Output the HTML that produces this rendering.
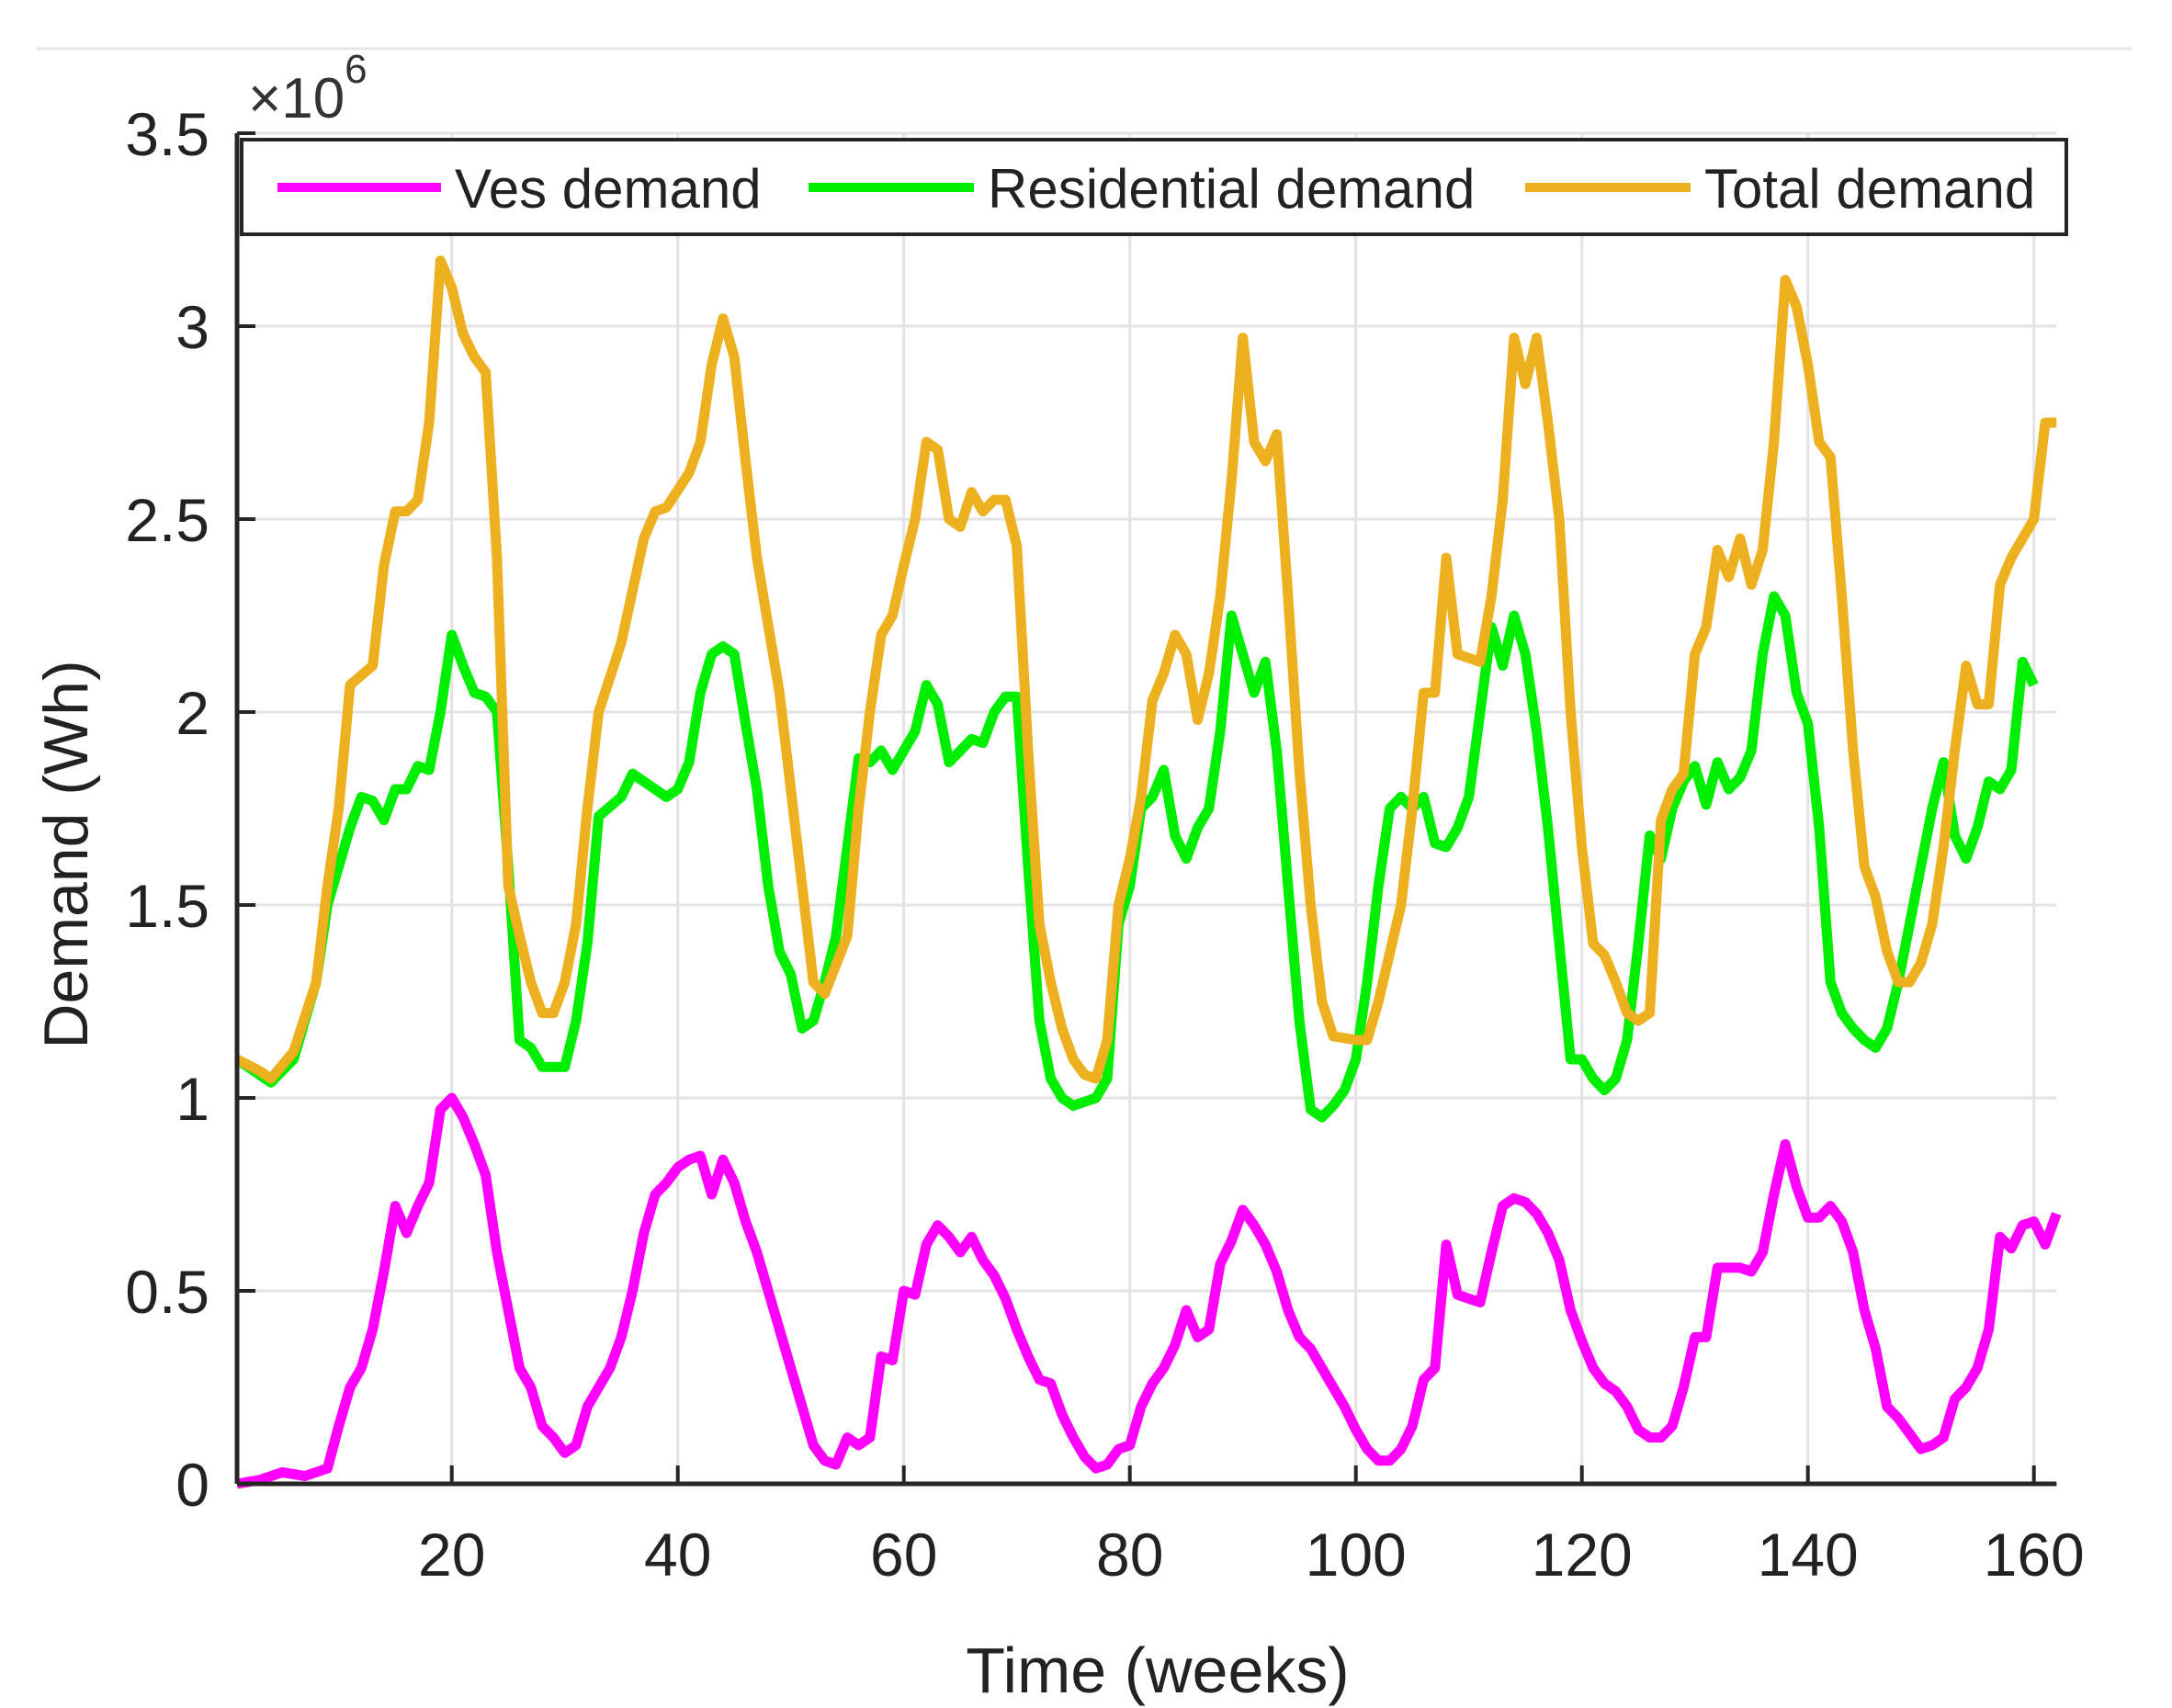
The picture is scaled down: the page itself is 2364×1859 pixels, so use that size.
<!DOCTYPE html>
<html><head><meta charset="utf-8"><style>
html,body{margin:0;padding:0;background:#fff;}
svg{display:block;font-family:"Liberation Sans",sans-serif;}
</style></head><body>
<svg id="chart" width="2364" height="1859" viewBox="0 0 2364 1859">
<line x1="40" y1="53" x2="2320" y2="53" stroke="#e6e6e6" stroke-width="3"/>
<g id="grid"></g>
<g id="series"></g>
<g id="axes"></g>
<text x="270" y="128" font-size="62" fill="#333">×10<tspan font-size="44" dy="-38">6</tspan></text>
<text transform="translate(95,930) rotate(-90)" text-anchor="middle" font-size="68" fill="#222">Demand  (Wh)</text>
<text x="1260" y="1842" text-anchor="middle" font-size="70" fill="#222">Time (weeks)</text>
<g>
<rect x="263" y="152" width="1986" height="103" fill="#fff" stroke="#262626" stroke-width="4"/>
<g>
<line x1="302" y1="204" x2="480" y2="204" stroke="#ff00ff" stroke-width="10"/>
<text x="495" y="226" font-size="60" fill="#222">Ves demand</text></g>
<g>
<line x1="880" y1="204" x2="1060" y2="204" stroke="#00ee00" stroke-width="10"/>
<text x="1075" y="226" font-size="60" fill="#222">Residential demand</text></g>
<g>
<line x1="1660" y1="204" x2="1840" y2="204" stroke="#edb120" stroke-width="10"/>
<text x="1855" y="226" font-size="60" fill="#222">Total demand</text></g>
</g>
</svg>
<script>
const xTicks=[20,40,60,80,100,120,140,160];
const yTicks=[0,0.5,1,1.5,2,2.5,3,3.5];
const yTickLabels=["0","0.5","1","1.5","2","2.5","3","3.5"];
const totalWeeks=[1,3,4,6,8,9,10,11,13,14,15,16,17,18,19,20,21,22,23,24,25,26,27,28,29,30,31,32,33,35,37,38,39,41,42,43,44,45,46,47,49,50,51,52,53,55,56,57,58,59,60,61,62,63,64,65,66,67,68,69,70,71,72,73,74,75,76,77,78,79,80,81,82,83,84,85,86,87,88,89,90,91,92,93,94,95,96,97,98,100,101,102,104,105,106,107,108,109,110,111,112,113,114,115,116,117,118,119,120,121,122,123,124,125,126,127,128,129,130,131,132,133,134,135,136,137,138,139,140,141,142,143,144,145,146,147,148,149,150,151,152,153,154,155,156,157,158,159,160,161,162];
const totalValues=[1.1,1.07,1.05,1.12,1.3,1.55,1.75,2.07,2.12,2.38,2.52,2.52,2.55,2.75,3.17,3.1,2.98,2.92,2.88,2.4,1.55,1.42,1.3,1.22,1.22,1.3,1.45,1.75,2.0,2.18,2.45,2.52,2.53,2.62,2.7,2.9,3.02,2.92,2.65,2.4,2.05,1.8,1.55,1.3,1.27,1.42,1.75,2.0,2.2,2.25,2.38,2.5,2.7,2.68,2.5,2.48,2.57,2.52,2.55,2.55,2.43,1.9,1.45,1.3,1.18,1.1,1.06,1.05,1.15,1.5,1.62,1.78,2.03,2.1,2.2,2.15,1.98,2.1,2.3,2.6,2.97,2.7,2.65,2.72,2.3,1.85,1.5,1.25,1.16,1.15,1.15,1.25,1.5,1.75,2.05,2.05,2.4,2.15,2.14,2.13,2.3,2.55,2.97,2.85,2.97,2.75,2.5,2.0,1.65,1.4,1.37,1.3,1.22,1.2,1.22,1.72,1.8,1.84,2.15,2.22,2.42,2.35,2.45,2.33,2.42,2.7,3.12,3.05,2.9,2.7,2.66,2.3,1.9,1.6,1.52,1.38,1.3,1.3,1.35,1.45,1.65,1.9,2.12,2.02,2.02,2.33,2.4,2.45,2.5,2.75,2.75];
const resWeeks=[1,3,4,6,8,9,10,11,12,13,14,15,16,17,18,19,20,21,22,23,24,25,26,27,28,30,31,32,33,35,36,37,39,40,41,42,43,44,45,46,47,48,49,50,51,52,53,54,55,56,57,58,59,60,61,62,63,64,65,66,67,68,69,70,71,72,73,74,75,77,78,79,80,81,82,83,84,85,86,87,88,89,90,91,92,93,94,95,96,97,98,99,100,101,102,103,104,105,106,107,108,109,110,111,112,113,114,115,116,117,118,119,120,121,122,123,124,125,126,127,128,129,130,131,132,133,134,135,136,137,138,139,140,141,142,143,144,145,146,147,148,149,150,151,152,153,154,155,156,157,158,159,160,161,162];
const resValues=[1.1,1.06,1.04,1.1,1.3,1.5,1.6,1.7,1.78,1.77,1.72,1.8,1.8,1.86,1.85,2.0,2.2,2.12,2.05,2.04,2.0,1.6,1.15,1.13,1.08,1.08,1.2,1.4,1.73,1.78,1.84,1.82,1.78,1.8,1.87,2.05,2.15,2.17,2.15,1.97,1.8,1.55,1.38,1.32,1.18,1.2,1.3,1.42,1.65,1.88,1.87,1.9,1.85,1.9,1.95,2.07,2.02,1.87,1.9,1.93,1.92,2.0,2.04,2.04,1.6,1.2,1.05,1.0,0.98,1.0,1.05,1.45,1.55,1.75,1.78,1.85,1.68,1.62,1.7,1.75,1.95,2.25,2.15,2.05,2.13,1.9,1.55,1.2,0.97,0.95,0.98,1.02,1.1,1.3,1.55,1.75,1.78,1.75,1.78,1.66,1.65,1.7,1.78,2.0,2.22,2.12,2.25,2.15,1.95,1.7,1.4,1.1,1.1,1.05,1.02,1.05,1.15,1.4,1.68,1.62,1.75,1.82,1.86,1.76,1.87,1.8,1.83,1.9,2.15,2.3,2.25,2.05,1.97,1.7,1.3,1.22,1.18,1.15,1.13,1.18,1.3,1.45,1.6,1.75,1.87,1.68,1.62,1.7,1.82,1.8,1.85,2.13,2.07];
const vesWeeks=[1,3,5,7,9,10,11,12,13,14,15,16,17,18,19,20,21,22,23,24,25,26,27,28,29,30,31,32,33,34,35,36,37,38,39,40,41,42,43,44,45,46,47,48,49,50,51,52,53,54,55,56,57,58,59,60,61,62,63,64,65,66,67,68,69,70,71,72,73,74,75,76,77,78,79,80,81,82,83,84,85,86,87,88,89,90,91,92,93,94,95,96,97,98,99,100,101,102,103,104,105,106,107,108,109,110,111,112,113,114,115,116,117,118,119,120,121,122,123,124,125,126,127,128,129,130,131,132,133,134,135,136,137,138,139,140,141,142,143,144,145,146,147,148,149,150,151,152,153,154,155,156,157,158,159,160,161,162];
const vesValues=[0.0,0.01,0.03,0.02,0.04,0.15,0.25,0.3,0.4,0.55,0.72,0.65,0.72,0.78,0.97,1.0,0.95,0.88,0.8,0.6,0.45,0.3,0.25,0.15,0.12,0.08,0.1,0.2,0.25,0.3,0.38,0.5,0.65,0.75,0.78,0.82,0.84,0.85,0.75,0.84,0.78,0.68,0.6,0.5,0.4,0.3,0.2,0.1,0.06,0.05,0.12,0.1,0.12,0.33,0.32,0.5,0.49,0.62,0.67,0.64,0.6,0.64,0.58,0.54,0.48,0.4,0.33,0.27,0.26,0.18,0.12,0.07,0.04,0.05,0.09,0.1,0.2,0.26,0.3,0.36,0.45,0.38,0.4,0.57,0.63,0.71,0.67,0.62,0.55,0.45,0.38,0.35,0.3,0.25,0.2,0.14,0.09,0.06,0.06,0.09,0.15,0.27,0.3,0.62,0.49,0.48,0.47,0.6,0.72,0.74,0.73,0.7,0.65,0.58,0.45,0.37,0.3,0.26,0.24,0.2,0.14,0.12,0.12,0.15,0.25,0.38,0.38,0.56,0.56,0.56,0.55,0.6,0.75,0.88,0.77,0.69,0.69,0.72,0.68,0.6,0.45,0.35,0.2,0.17,0.13,0.09,0.1,0.12,0.22,0.25,0.3,0.4,0.64,0.61,0.67,0.68,0.62,0.7];

const X0=258,XPW=12.3,XMIN=1,XMAX=162;
const YBASE=1615,YPU=420;
function xs(w){return X0+(w-XMIN)*XPW;}
function ys(v){return YBASE-v*YPU;}
const NS='http://www.w3.org/2000/svg';
function mk(tag,attrs,parent){const e=document.createElementNS(NS,tag);for(const k in attrs)e.setAttribute(k,attrs[k]);parent.appendChild(e);return e;}
const grid=document.getElementById('grid'),axes=document.getElementById('axes'),series=document.getElementById('series');
const L=xs(XMIN),R=xs(XMAX),T=ys(3.5),B=ys(0);
xTicks.forEach(t=>{
  const g=mk('line',{x1:xs(t),x2:xs(t),y1:T,y2:B,stroke:'#e3e3e3','stroke-width':3},grid);
  
  
  const tk=mk('line',{x1:xs(t),x2:xs(t),y1:B,y2:B-20,stroke:'#262626','stroke-width':4},axes);
  
  
  const lb=mk('text',{x:xs(t),y:B+100,'text-anchor':'middle','font-size':66,fill:'#222'},axes);
  lb.textContent=String(t);
  
  
});
yTicks.forEach((t,i)=>{
  const g=mk('line',{x1:L,x2:R,y1:ys(t),y2:ys(t),stroke:'#e3e3e3','stroke-width':3},grid);
  
  
  const tk=mk('line',{x1:L,x2:L+20,y1:ys(t),y2:ys(t),stroke:'#262626','stroke-width':4},axes);
  
  
  const lb=mk('text',{x:L-30,y:ys(t)+24,'text-anchor':'end','font-size':66,fill:'#222'},axes);
  lb.textContent=yTickLabels[i];
  
  
});
const xa=mk('line',{x1:L,x2:R,y1:B,y2:B,stroke:'#262626','stroke-width':5},axes);


const ya=mk('line',{x1:L,x2:L,y1:T,y2:B,stroke:'#262626','stroke-width':5},axes);


function line(weeks,vals,color,name){
  const d=weeks.map((w,i)=>(i?'L':'M')+xs(w).toFixed(1)+' '+ys(vals[i]).toFixed(1)).join(' ');
  const p=mk('path',{d:d,fill:'none',stroke:color,'stroke-width':11,'stroke-linejoin':'round'},series);
  
  
}
line(vesWeeks,vesValues,'#ff00ff','ves-demand-line');
line(resWeeks,resValues,'#00ee00','residential-demand-line');
line(totalWeeks,totalValues,'#edb120','total-demand-line');
</script>
</body></html>
